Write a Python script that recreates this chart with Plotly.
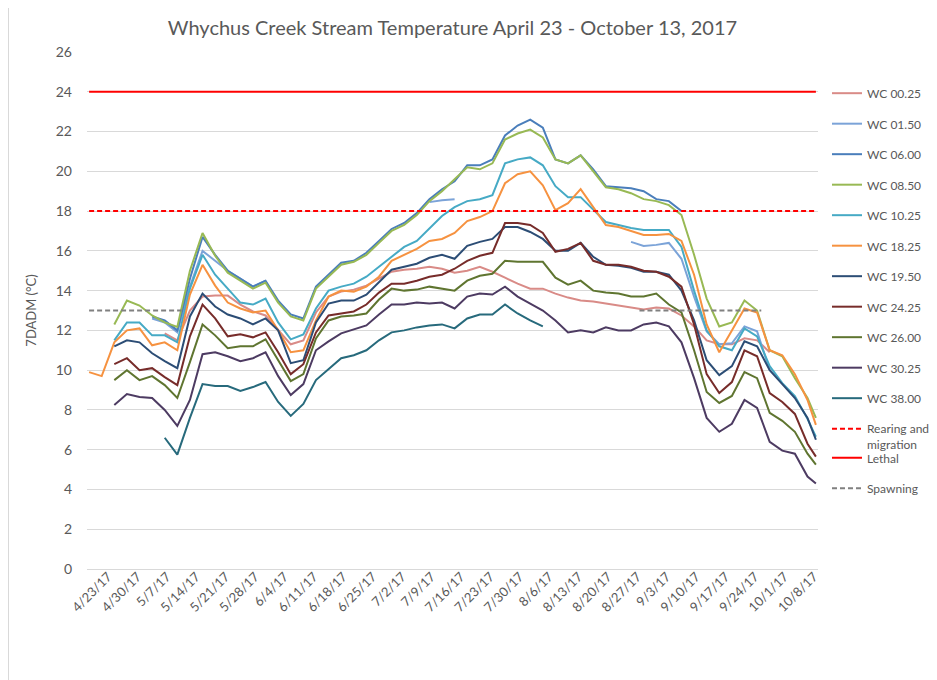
import pandas as pd
import plotly.graph_objects as go

# sampling dates (every 3 days from 4/23/17, plus the last day 10/13/17)
DATES = [d.strftime("%Y-%m-%d") for d in pd.date_range("2017-04-23", periods=58, freq="3D")] + ["2017-10-13"]

N = None
WC_00_25 = [N, N, N, N, N, N, 11.85, 11.5, 13.0, 13.7, 13.75, 13.75, 13.3, 12.95, 12.75,
            12.0, 11.3, 11.5, 12.9, 13.7, 13.95, 14.05, 14.25, 14.6, 14.95, 15.05, 15.1, 15.2,
            15.1, 14.9, 15.0, 15.2, 14.95, 14.65, 14.35, 14.1, 14.1, 13.85, 13.65, 13.5, 13.45,
            13.35, 13.25, 13.15, 13.05, 13.15, 13.1, 12.75, 12.2, 11.5, 11.3, 11.3, 11.6, 11.5,
            10.9, N, N, N, N]
WC_01_50 = [N, N, N, N, N, 12.6, 12.4, 11.9, 14.2, 16.0, 15.5, 15.0, 14.6, 14.2, 14.5,
            N, N, N, N, N, N, N, N, N, N, N, N, 18.45,
            18.55, 18.6, N, N, N, N, N, N, N, N, N, N, N,
            N, N, 16.45, 16.25, 16.3, 16.4, 15.6, 13.7, 11.95, 11.3, 11.35, 12.2, 11.95,
            10.0, N, N, N, N]
WC_06_00 = [N, N, N, N, N, 12.7, 12.5, 12.0, 14.6, 16.7, 15.8, 15.0, 14.6, 14.2, 14.5,
            13.5, 12.8, 12.6, 14.2, 14.8, 15.4, 15.5, 15.9, 16.5, 17.1, 17.4, 17.9, 18.6,
            19.1, 19.5, 20.3, 20.3, 20.6, 21.8, 22.3, 22.6, 22.2, 20.6, 20.4, 20.8, 20.1,
            19.25, 19.2, 19.15, 19.0, 18.6, 18.5, 18.0, N, N, N, N, N, N,
            N, N, N, N, N]
WC_08_50 = [N, N, 12.3, 13.5, 13.25, 12.75, 12.4, 12.17, 15.0, 16.9, 15.75, 14.9, 14.5, 14.1, 14.4,
            13.4, 12.7, 12.5, 14.1, 14.7, 15.3, 15.45, 15.8, 16.4, 17.0, 17.3, 17.8, 18.5,
            19.0, 19.6, 20.2, 20.1, 20.4, 21.6, 21.9, 22.1, 21.7, 20.6, 20.4, 20.8, 20.0,
            19.2, 19.1, 18.9, 18.6, 18.5, 18.3, 17.8, 15.8, 13.6, 12.2, 12.4, 13.5, 13.0,
            11.0, 10.7, 9.6, 8.6, 7.6]
WC_10_25 = [N, N, 11.5, 12.4, 12.4, 11.75, 11.75, 11.4, 14.1, 15.8, 14.8, 14.1, 13.4, 13.3, 13.6,
            12.4, 11.55, 11.8, 13.1, 14.0, 14.2, 14.35, 14.7, 15.2, 15.7, 16.2, 16.5, 17.1,
            17.75, 18.2, 18.5, 18.6, 18.8, 20.4, 20.6, 20.7, 20.3, 19.25, 18.7, 18.7, 18.05,
            17.45, 17.3, 17.15, 17.05, 17.05, 17.05, 16.2, 14.0, 12.0, 11.2, 11.0, 12.1, 11.7,
            10.2, 9.35, 8.7, 7.55, 6.65]
WC_18_25 = [9.9, 9.7, 11.4, 12.0, 12.1, 11.25, 11.4, 11.0, 13.8, 15.3, 14.25, 13.4, 13.1, 12.9, 13.0,
            12.0, 10.9, 11.0, 12.5, 13.7, 14.0, 13.95, 14.2, 14.7, 15.5, 15.8, 16.1, 16.5,
            16.6, 16.9, 17.5, 17.7, 18.0, 19.4, 19.85, 20.0, 19.3, 18.05, 18.4, 19.1, 18.2,
            17.3, 17.2, 17.0, 16.8, 16.8, 16.85, 16.5, 14.8, 12.3, 10.9, 12.0, 13.1, 12.9,
            11.0, 10.75, 9.8, 8.5, 7.25]
WC_19_50 = [N, N, 11.2, 11.5, 11.4, 10.85, 10.45, 10.1, 12.7, 13.85, 13.2, 12.8, 12.6, 12.3, 12.6,
            12.0, 10.35, 10.5, 12.4, 13.35, 13.5, 13.5, 13.8, 14.4, 15.05, 15.2, 15.35, 15.65,
            15.8, 15.6, 16.25, 16.45, 16.6, 17.2, 17.2, 16.95, 16.6, 16.0, 16.0, 16.4, 15.7,
            15.3, 15.25, 15.15, 14.95, 14.95, 14.8, 14.0, 12.5, 10.5, 9.75, 10.2, 11.45, 11.2,
            10.0, 9.3, 8.6, 7.6, 6.5]
WC_24_25 = [N, N, 10.3, 10.6, 10.0, 10.1, 9.65, 9.25, 11.7, 13.3, 12.6, 11.7, 11.8, 11.65, 11.9,
            10.9, 9.8, 10.3, 11.9, 12.75, 12.85, 12.95, 13.3, 13.9, 14.35, 14.35, 14.5, 14.7,
            14.8, 15.1, 15.5, 15.75, 15.9, 17.4, 17.4, 17.3, 16.9, 15.95, 16.1, 16.4, 15.5,
            15.3, 15.3, 15.2, 15.0, 14.95, 14.7, 14.2, 12.3, 9.8, 8.85, 9.4, 11.0, 10.7,
            8.85, 8.4, 7.8, 6.3, 5.65]
WC_26_00 = [N, N, 9.5, 10.0, 9.5, 9.7, 9.25, 8.6, 10.4, 12.3, 11.75, 11.1, 11.2, 11.2, 11.55,
            10.5, 9.45, 9.8, 11.6, 12.5, 12.7, 12.75, 12.85, 13.55, 14.1, 14.0, 14.05, 14.2,
            14.1, 14.0, 14.5, 14.75, 14.85, 15.5, 15.45, 15.45, 15.45, 14.65, 14.3, 14.5, 14.0,
            13.9, 13.85, 13.7, 13.7, 13.85, 13.3, 12.9, 11.0, 8.9, 8.35, 8.7, 9.9, 9.6,
            7.85, 7.45, 6.9, 5.8, 5.25]
WC_30_25 = [N, N, 8.25, 8.8, 8.65, 8.6, 8.0, 7.2, 8.5, 10.8, 10.9, 10.7, 10.45, 10.6, 10.9,
            9.7, 8.75, 9.3, 11.0, 11.45, 11.85, 12.05, 12.25, 12.8, 13.3, 13.3, 13.4, 13.35,
            13.4, 13.1, 13.7, 13.85, 13.8, 14.2, 13.7, 13.35, 13.0, 12.5, 11.9, 12.0, 11.9,
            12.15, 12.0, 12.0, 12.3, 12.4, 12.2, 11.4, 9.6, 7.6, 6.9, 7.3, 8.5, 8.1,
            6.4, 5.95, 5.8, 4.65, 4.3]
WC_38_00 = [N, N, N, N, N, N, 6.6, 5.75, 7.6, 9.3, 9.2, 9.2, 8.95, 9.15, 9.4,
            8.4, 7.7, 8.3, 9.5, 10.05, 10.6, 10.75, 11.0, 11.5, 11.9, 12.0, 12.15, 12.25,
            12.3, 12.1, 12.6, 12.8, 12.8, 13.3, 12.85, 12.5, 12.2, N, N, N, N,
            N, N, N, N, N, N, N, N, N, N, N, N, N,
            N, N, N, N, N]

SERIES_NAMES = ["WC 00.25", "WC 01.50", "WC 06.00", "WC 08.50", "WC 10.25", "WC 18.25",
                "WC 19.50", "WC 24.25", "WC 26.00", "WC 30.25", "WC 38.00"]
SERIES_VALUES = [WC_00_25, WC_01_50, WC_06_00, WC_08_50, WC_10_25, WC_18_25,
                 WC_19_50, WC_24_25, WC_26_00, WC_30_25, WC_38_00]
COLORS = ["#D98B87", "#7BA3D8", "#4A7EBB", "#98B954", "#46AAC5", "#F69240",
          "#2C4D75", "#772C2A", "#5F7530", "#4D3B62", "#276A7C"]

# criteria lines
CRIT_DATES = ["2017-04-23", "2017-10-13"]
REARING = [18, 18]
LETHAL = [24, 24]
SPAWN_DATES = ["2017-04-23", "2017-05-15", None, "2017-09-01", "2017-09-30"]
SPAWNING = [13, 13, None, 13, 13]

TXT = "#595959"
FONT = "Lato"

fig = go.Figure()
for name, vals, col in zip(SERIES_NAMES, SERIES_VALUES, COLORS):
    fig.add_trace(go.Scatter(x=DATES, y=vals, name=name, mode="lines",
                             line=dict(color=col, width=2), legendgroup=name,
                             connectgaps=False))

fig.add_trace(go.Scatter(x=CRIT_DATES, y=REARING, name="Rearing and<br>migration", mode="lines",
                         line=dict(color="#FF0000", width=2, dash="5px,3px"),
                         legendgroup="rear"))
fig.add_trace(go.Scatter(x=CRIT_DATES, y=LETHAL, name="Lethal", mode="lines",
                         line=dict(color="#FF0000", width=2), legendgroup="lethal",
                         legend="legend2"))
fig.add_trace(go.Scatter(x=SPAWN_DATES, y=SPAWNING, name="Spawning", mode="lines",
                         line=dict(color="#808080", width=2, dash="5px,3px"),
                         legendgroup="spawn", legend="legend2", connectgaps=False))

W, H = 929, 672
fig.update_layout(
    width=W, height=H,
    margin=dict(l=79, r=119, t=44, b=111, autoexpand=False),
    paper_bgcolor="white", plot_bgcolor="white",
    font=dict(family=FONT, color=TXT, size=13),
    title=dict(text="Whychus Creek Stream Temperature April 23 - October 13, 2017",
               x=0.5, xref="paper", xanchor="center", y=1 - 20 / H, yanchor="middle",
               font=dict(size=20, color=TXT, family=FONT)),
    legend=dict(x=1.0123, xanchor="left", y=0.948, yanchor="top",
                font=dict(size=12, color=TXT, family=FONT),
                tracegroupgap=11.5, valign="top", bgcolor="rgba(0,0,0,0)",
                itemwidth=30),
    legend2=dict(x=1.0123, xanchor="left", y=0.243, yanchor="top",
                 font=dict(size=12, color=TXT, family=FONT),
                 tracegroupgap=11.5, valign="top", bgcolor="rgba(0,0,0,0)",
                 itemwidth=30),
    showlegend=True,
    shapes=[dict(type="line", xref="paper", yref="paper",
                 x0=(0.5 - 79) / 731, x1=(0.5 - 79) / 731, y0=-0.3, y1=1.2,
                 line=dict(color="#D9D9D9", width=1), layer="below")],
)

fig.update_xaxes(range=["2017-04-22 12:00", "2017-10-13 12:00"], type="date", automargin=False,
                 tick0="2017-04-23", dtick=7 * 86400000, tickformat="%-m/%-d/%y",
                 tickangle=-45, showgrid=False, zeroline=False,
                 showline=True, linecolor="#D9D9D9", linewidth=1,
                 tickfont=dict(size=13, color=TXT, family=FONT),
                 ticklabelshift=19, ticklabelstandoff=-6, ticks="")
fig.update_yaxes(range=[0, 26], dtick=2, showgrid=True, gridcolor="#D9D9D9", gridwidth=1,
                 zeroline=False, showline=False, ticks="", automargin=False,
                 tickfont=dict(size=14, color=TXT, family=FONT),
                 ticklabelstandoff=14,
                 title=dict(text="7DADM (°C)", standoff=16,
                            font=dict(size=13, color=TXT, family=FONT)))

fig.write_html("out.html")
